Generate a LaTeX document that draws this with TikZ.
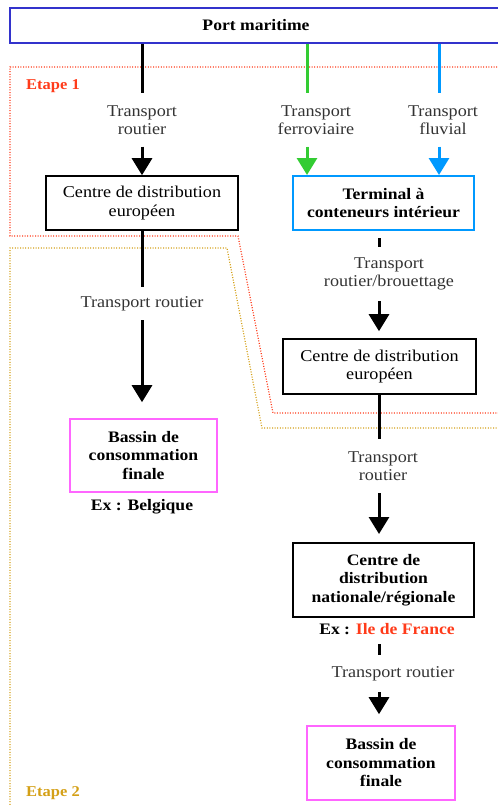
\documentclass[tikz,border=0pt]{standalone}
\usepackage{fontspec}
\setmainfont{Liberation Serif}[FakeStretch=1.1]
\usetikzlibrary{arrows.meta}
\definecolor{portblue}{HTML}{3333CC}
\definecolor{skyblue}{HTML}{0099FF}
\definecolor{grn}{HTML}{33CC33}
\definecolor{mag}{HTML}{FF66FF}
\definecolor{etred}{HTML}{FF3B1A}
\definecolor{etgold}{HTML}{D4A017}
\definecolor{lbl}{HTML}{333333}
\tikzset{
  box/.style={draw, line width=1.6pt, align=center, inner sep=0pt, font=\fontsize{16.5}{18.5}\selectfont},
  lab/.style={align=center, inner sep=0pt, text=lbl, font=\fontsize{16.5}{18.5}\selectfont},
  ex/.style={align=center, inner sep=0pt, font=\fontsize{16}{18.5}\selectfont\bfseries},
  etape/.style={anchor=west, inner sep=0pt, font=\fontsize{15}{17}\selectfont\bfseries},
  conn/.style={line width=3pt},
  arr/.style={line width=3pt, -{Triangle[width=20pt,length=17pt]}},
  gline/.style={draw=grn, line width=3pt},
  bline/.style={draw=skyblue, line width=3pt},
  zone/.style={line width=1.2pt, dash pattern=on 1pt off 1.6pt},
}
\begin{document}
\begin{tikzpicture}[x=1pt,y=-1pt]
\useasboundingbox (0,0) rectangle (498,806);
% zones
\draw[zone, etred] (505,67) -- (10,67) -- (10,236) -- (238,236) -- (273,413) -- (505,413);
\draw[zone, etgold] (10,810) -- (10,248) -- (227,248) -- (262,428) -- (505,428);
\node[etape, text=etred] (et1) at (26,86) {Etape 1};
\node[etape, text=etgold] (et2) at (26,793) {Etape 2};
% column coordinates
\coordinate (cl) at (142,0);
\coordinate (cg) at (307,0);
\coordinate (cb) at (439,0);
\coordinate (cr) at (379,0);
% boxes
\node[box, draw=portblue, minimum width=492pt, minimum height=35pt, font=\fontsize{16}{18.5}\selectfont\bfseries] (port) at (256,25.5) {Port maritime};
\node[box, minimum width=192pt, minimum height=54pt] (eu1) at (142,203) {Centre de distribution\\européen};
\node[box, draw=skyblue, line width=2pt, minimum width=181pt, minimum height=54pt, font=\fontsize{16}{18.5}\selectfont\bfseries] (term) at (383.5,203) {Terminal à\\conteneurs intérieur};
\node[box, draw=mag, minimum width=147pt, minimum height=73pt, font=\fontsize{16}{18.5}\selectfont\bfseries] (bas1) at (143.5,455.5) {Bassin de\\consommation\\finale};
\node[box, minimum width=193pt, minimum height=55pt] (eu2) at (379.5,366.5) {Centre de distribution\\européen};
\node[box, line width=2pt, minimum width=181pt, minimum height=74pt, font=\fontsize{16}{18.5}\selectfont\bfseries] (nat) at (383.5,580) {Centre de\\distribution\\nationale/régionale};
\node[box, draw=mag, minimum width=148pt, minimum height=74pt, font=\fontsize{16}{18.5}\selectfont\bfseries] (bas2) at (381,763) {Bassin de\\consommation\\finale};
% labels
\node[lab, minimum height=53pt] (l1) at (142,120) {Transport\\routier};
\node[lab, minimum height=53pt] (l2) at (316,120) {Transport\\ferroviaire};
\node[lab, minimum height=53pt] (l3) at (443,120) {Transport\\fluvial};
\node[lab, minimum height=33pt] (l4) at (142,303.5) {Transport routier};
\node[lab, minimum height=54pt] (l5) at (389,274) {Transport\\routier/brouettage};
\node[lab, minimum height=54pt] (l6) at (383,466) {Transport\\routier};
\node[lab, minimum height=37pt] (l7) at (393,673.5) {Transport routier};
\node[ex, minimum height=22pt] (exb) at (142,507) {Ex : Belgique};
\node[ex, minimum height=22pt] (exf) at (387,629) {Ex : \textcolor{etred}{Ile de France}};
% connectors left column
\draw[conn] (port.south -| cl) -- (l1.north -| cl);
\draw[arr] (l1.south -| cl) -- (eu1.north -| cl);
\draw[conn] (eu1.south -| cl) -- (l4.north -| cl);
\draw[arr, shorten >=16pt] (l4.south -| cl) -- (bas1.north -| cl);
% green and blue
\draw[gline] (port.south -| cg) -- (l2.north -| cg);
\draw[gline, fill=grn, -{Triangle[width=20pt,length=17pt]}] (l2.south -| cg) -- (term.north -| cg);
\draw[bline] (port.south -| cb) -- (l3.north -| cb);
\draw[bline, fill=skyblue, -{Triangle[width=20pt,length=17pt]}] (l3.south -| cb) -- (term.north -| cb);
% right column
\draw[conn, shorten <=7pt] (term.south -| cr) -- (l5.north -| cr);
\draw[arr, shorten >=7pt] (l5.south -| cr) -- (eu2.north -| cr);
\draw[conn] (eu2.south -| cr) -- (l6.north -| cr);
\draw[arr, shorten >=8pt] (l6.south -| cr) -- (nat.north -| cr);
\draw[conn, shorten <=4pt] (exf.south -| cr) -- (l7.north -| cr);
\draw[arr, shorten >=11pt] (l7.south -| cr) -- (bas2.north -| cr);
\end{tikzpicture}
\end{document}
